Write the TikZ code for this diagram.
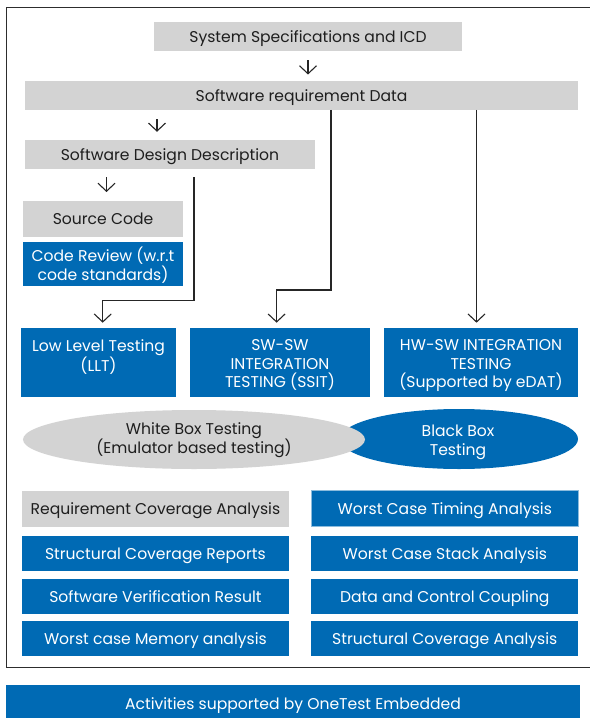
\documentclass[tikz,border=0pt]{standalone}
\usepackage{fontspec}
\setmainfont{Poppins}
\usetikzlibrary{arrows.meta,shapes.geometric}
\definecolor{ibmblue}{RGB}{0,106,180}
\definecolor{boxgray}{RGB}{211,211,211}
\definecolor{txtdark}{RGB}{30,30,30}
\definecolor{framecol}{RGB}{45,45,45}
\begin{document}
\begin{tikzpicture}[x=1bp,y=-1bp,
  every node/.style={inner sep=0pt, outer sep=0pt, align=center, text depth=0pt,
    font=\fontsize{15.6bp}{18.7bp}\selectfont},
  graybox/.style={rectangle, fill=boxgray, text=txtdark},
  bluebox/.style={rectangle, fill=ibmblue, text=white},
  arr/.style={draw=black!85, line width=1.1bp, -{Straight Barb[length=8bp,width=17bp,line width=1.1bp]}},
  conn/.style={draw=black!85, line width=1.1bp}
]
\useasboundingbox (0,0) rectangle (590,718);
% frame
\draw[framecol, line width=1.3bp] (6.8,7.5) rectangle (595,667.3);

% top chain
\node[graybox, minimum width=308bp, minimum height=29bp] (sys) at (308,36.3) {System Specifications and ICD};
\node[graybox, minimum width=553bp, minimum height=29bp] (swreq) at (301.5,95.5) {Software requirement Data};
\node[graybox, minimum width=290bp, minimum height=29bp] (sdd) at (170,154.3) {Software Design Description};
\node[graybox, minimum width=160bp, minimum height=36bp] (src) at (103,219) {Source Code};
\node[bluebox, minimum width=160bp, minimum height=44bp] (rev) at (103,264) {Code Review (w.r.t\\code standards)};

% testing boxes
\node[bluebox, minimum width=155bp, minimum height=69bp] (llt) at (98.5,362.2) {};
\node[text=white] (lltt) at (98.5,364.7) {Low Level Testing\\(LLT)\\\mbox{}};
\node[bluebox, minimum width=180bp, minimum height=69bp] (ssit) at (280,362.2) {};
\node[text=white] (ssitt) at (280,363.7) {SW-SW\\INTEGRATION\\TESTING (SSIT)};
\node[bluebox, minimum width=194bp, minimum height=69bp] (hwsw) at (481,362.2) {};
\node[text=white] (hwswt) at (481,363.7) {HW-SW INTEGRATION\\TESTING\\(Supported by eDAT)};

% short arrows
\coordinate (x1) at (308,0);
\coordinate (x2) at (157,0);
\coordinate (x3) at (106.5,0);
\draw[arr, shorten <=9.5bp, shorten >=6.5bp] (sys.south -| x1) -- (x1 |- swreq.north);
\draw[arr, shorten <=9bp, shorten >=8bp] (swreq.south -| x2) -- (x2 |- sdd.north);
\draw[arr, shorten <=8.5bp, shorten >=9bp] (sdd.south -| x3) -- (x3 |- src.north);

% long connectors
\coordinate (l1) at (194,300.7);
\coordinate (l2) at (102.7,300.7);
\coordinate (s1) at (331,290);
\coordinate (s2) at (276.6,290);
\coordinate (h1) at (476.5,0);
\draw[arr, shorten <=8.5bp, shorten >=5bp] (sdd.south -| l1) -- (l1) -- (l2) -- (l2 |- llt.north);
\draw[arr, shorten >=5bp] (swreq.south -| s1) -- (s1) -- (s2) -- (s2 |- ssit.north);
\draw[arr, shorten >=5bp] (swreq.south -| h1) -- (h1 |- hwsw.north);

% ellipses
\node[ellipse, fill=ibmblue, minimum width=238bp, minimum height=60bp] (bbt) at (459,439) {};
\node[text=white] (bbtt) at (458,440.5) {Black Box\\Testing};
\node[ellipse, fill=boxgray, minimum width=342bp, minimum height=59bp] (wbt) at (194,439.5) {};
\node[text=txtdark] (wbtt) at (194,438) {White Box Testing\\(Emulator based testing)};

% analysis boxes
\node[graybox, minimum width=267bp, minimum height=36bp] (rca) at (155.4,508.7) {Requirement Coverage Analysis};
\node[bluebox, minimum width=267bp, minimum height=35bp] (scr) at (155.4,553.3) {Structural Coverage Reports};
\node[bluebox, minimum width=267bp, minimum height=35bp] (svr) at (155.4,596.3) {Software Verification Result};
\node[bluebox, minimum width=267bp, minimum height=35bp] (wcm) at (155.4,638.3) {Worst case Memory analysis};
\node[bluebox, draw=ibmblue!45, line width=0.8bp, minimum width=267bp, minimum height=36bp] (wct) at (444.8,508.7) {Worst Case Timing Analysis};
\node[bluebox, minimum width=267bp, minimum height=35bp] (wcs) at (444.8,553.3) {Worst Case Stack Analysis};
\node[bluebox, minimum width=267bp, minimum height=35bp] (dcc) at (444.8,596.3) {Data and Control Coupling};
\node[bluebox, minimum width=267bp, minimum height=35bp] (sca) at (444.8,638.3) {Structural Coverage Analysis};

% bottom bar
\node[bluebox, minimum width=574bp, minimum height=38bp] (bar) at (293,704) {};
\node[text=white] (bart) at (293,704) {Activities supported by OneTest Embedded};
\end{tikzpicture}
\end{document}
